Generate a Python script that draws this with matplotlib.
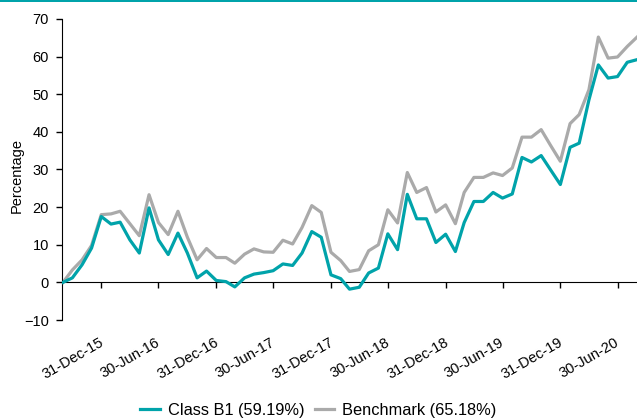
# -*- coding: utf-8 -*-
import matplotlib
matplotlib.use('Agg')
import matplotlib.pyplot as plt
import matplotlib.patches as patches
import matplotlib.dates as mdates
import pandas as pd

plt.rcParams['font.family'] = ['Liberation Sans', 'DejaVu Sans']

# monthly cumulative performance, Aug-2015 .. Aug-2020
dates = pd.date_range('2015-08-31', periods=61, freq='ME')
class_b1 = [0.0, 1.2, 4.7, 9.1, 17.5, 15.5, 16.0, 11.3, 7.8, 19.8,
            11.3, 7.4, 13.1, 7.8, 1.2, 3.0, 0.5, 0.2, -1.2, 1.2,
            2.2, 2.6, 3.1, 4.9, 4.5, 7.8, 13.5, 12.0, 2.0, 1.0,
            -1.8, -1.3, 2.5, 3.8, 12.9, 8.7, 23.4, 16.9, 16.9, 10.6,
            12.8, 8.2, 15.9, 21.5, 21.5, 23.9, 22.4, 23.5, 33.2, 32.0,
            33.7, 29.9, 26.0, 35.9, 37.0, 48.5, 57.8, 54.3, 54.7, 58.5,
            59.19]
benchmark = [0.0, 3.3, 6.0, 9.8, 18.0, 18.2, 18.9, 15.6, 12.4, 23.3,
             15.9, 12.7, 18.9, 12.0, 6.0, 9.0, 6.6, 6.6, 5.1, 7.5,
             8.9, 8.1, 8.0, 11.2, 10.2, 14.6, 20.4, 18.6, 8.0, 5.8,
             2.9, 3.4, 8.4, 10.0, 19.3, 15.8, 29.2, 23.9, 25.2, 18.7,
             20.6, 15.6, 23.9, 27.9, 27.9, 29.1, 28.4, 30.4, 38.6, 38.6,
             40.6, 36.4, 32.2, 42.2, 44.6, 51.2, 65.2, 59.6, 59.9, 62.7,
             65.18]
tick_dates = pd.to_datetime(['2015-12-31', '2016-06-30', '2016-12-31', '2017-06-30',
                             '2017-12-31', '2018-06-30', '2018-12-31', '2019-06-30',
                             '2019-12-31', '2020-06-30'])
tick_labels = ['31-Dec-15', '30-Jun-16', '31-Dec-16', '30-Jun-17', '31-Dec-17',
               '30-Jun-18', '31-Dec-18', '30-Jun-19', '31-Dec-19', '30-Jun-20']
yticks = list(range(-10, 80, 10))

teal = '#00A3AA'
grey = '#AAAAAA'
W, H = 637, 419

fig = plt.figure(figsize=(W / 100, H / 100), dpi=100)
ax = fig.add_axes([62 / W, (H - 320) / H, (W - 62) / W, 301 / H])

ax.plot(dates, class_b1, color=teal, lw=2.3, label='Class B1 (59.19%)', zorder=3)
ax.plot(dates, benchmark, color=grey, lw=2.3, label='Benchmark (65.18%)', zorder=2)

ax.set_xlim(dates[0] - pd.Timedelta(days=3), dates[-1])
ax.set_ylim(-10, 70)
ax.set_yticks(yticks)
ax.set_xticks(tick_dates)
ax.set_xticklabels([''] * len(tick_labels))

# axis at zero, no frame elsewhere
ax.spines['bottom'].set_position(('data', 0))
ax.spines['top'].set_visible(False)
ax.spines['right'].set_visible(False)
ax.tick_params(axis='both', direction='out', length=4, width=1, labelsize=10.5, colors='black')
ax.tick_params(axis='y', pad=5.5)
ax.set_ylabel('Percentage', fontsize=10.5)
ax.yaxis.set_label_coords((24 - 62) / (W - 62), 0.48)

# date labels sit below the plot, rotated, just left of each tick
for d, lab in zip(tick_dates, tick_labels):
    px = ax.transData.transform((mdates.date2num(d), 0))[0]
    fig.text((px - 28) / W, 1 - 358 / H, lab, rotation=30, ha='center', va='center', fontsize=10.5)

# legend at the bottom
fig.legend(loc='center', bbox_to_anchor=(0.5, 1 - 410 / H), ncol=2, frameon=False,
           fontsize=11.8, handlelength=1.2, handletextpad=0.5, columnspacing=0.6)

# thin teal strip along the top
fig.add_artist(patches.Rectangle((0, 1 - 2.5 / H), 1, 2.5 / H, transform=fig.transFigure,
                                 color=teal, lw=0))

fig.savefig('out.png', dpi=100)
